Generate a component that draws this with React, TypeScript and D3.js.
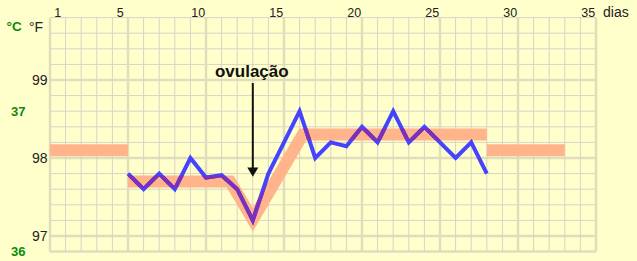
import React from "react";
import * as d3 from "d3";

const days: number[] = [5, 6, 7, 8, 9, 10, 11, 12, 13, 14, 15, 16, 17, 18, 19, 20, 21, 22, 23, 24, 25, 26, 27, 28];
const temps: number[] = [97.8, 97.6, 97.8, 97.6, 98.0, 97.75, 97.78, 97.6, 97.2, 97.8, 98.2, 98.6, 98.0, 98.2, 98.15, 98.4, 98.2, 98.6, 98.2, 98.4, 98.2, 98.0, 98.2, 97.8];

const bandBefore: [number, number][] = [[0, 98.1], [5, 98.1]];
const bandCycle: [number, number][] = [[5, 97.7], [11.55, 97.7], [13, 97.21], [16.2, 98.3], [28, 98.3]];
const bandAfter: [number, number][] = [[28, 98.1], [33, 98.1]];

const dayTicks: number[] = [1, 5, 10, 15, 20, 25, 30, 35];
const fTicks: number[] = [97, 98, 99];
const cTicks: { label: string; f: number }[] = [
  { label: "37", f: 98.6 },
  { label: "36", f: 96.8 },
];
const ovulationDay = 13;

const W = 637;
const H = 261;
const FONT = "'Liberation Sans', Arial, sans-serif";

export default function App() {
  const x = d3.scaleLinear().domain([0, 35]).range([50, 596]);
  const y = d3.scaleLinear().domain([96.8, 99.8]).range([251.6, 17.6]);

  const line = d3.line<[number, number]>().x((d) => x(d[0])).y((d) => y(d[1]));
  const tempPts: [number, number][] = days.map((d, i) => [d, temps[i]]);
  const bands = [bandBefore, bandCycle, bandAfter];

  const vLines = d3.range(0, 36);
  const hLines = d3.range(0, 16).map((i) => +(96.8 + i * 0.2).toFixed(1));

  const ax = x(ovulationDay);

  return (
    <svg width={W} height={H} style={{ position: "absolute", left: 0, top: 0, background: "#ffffcc" }}>
      <defs>
        <mask id="bandMask">
          <rect x={0} y={0} width={W} height={H} fill="black" />
          {bands.map((b, i) => (
            <path key={i} d={line(b) || ""} fill="none" stroke="white" strokeWidth={12} strokeLinejoin="miter" strokeMiterlimit={10} />
          ))}
        </mask>
      </defs>
      <rect x={0} y={0} width={W} height={H} fill="#ffffcc" />
      {/* grid */}
      {hLines.map((v) => {
        const thick = Math.abs(v - Math.round(v)) < 1e-6 || v === 96.8;
        return (
          <line key={"h" + v} x1={x(0)} x2={x(35)} y1={y(v)} y2={y(v)}
            stroke={thick ? "#e0ddbb" : "#d6d4c6"} strokeWidth={thick ? 2.5 : 1} />
        );
      })}
      {vLines.map((d) => {
        const thick = d % 5 === 0;
        return (
          <line key={"v" + d} x1={x(d)} x2={x(d)} y1={y(99.8)} y2={y(96.8)}
            stroke={thick ? "#e0ddbb" : "#d6d4c6"} strokeWidth={thick ? 2.5 : 1} />
        );
      })}
      {/* bands */}
      {bands.map((b, i) => (
        <path key={"b" + i} d={line(b) || ""} fill="none" stroke="#ffb48c" strokeWidth={12} strokeLinejoin="miter" strokeMiterlimit={10} />
      ))}
      {/* temperature line */}
      <path d={line(tempPts) || ""} fill="none" stroke="#4444ff" strokeWidth={4} strokeLinejoin="miter" strokeMiterlimit={10} />
      <path d={line(tempPts) || ""} fill="none" stroke="#7a30b8" strokeWidth={4} strokeLinejoin="miter" strokeMiterlimit={10} mask="url(#bandMask)" />
      {/* arrow */}
      <line x1={ax} x2={ax} y1={83} y2={170} stroke="#111" strokeWidth={2} />
      <polygon points={`${ax - 5.5},${167.5} ${ax + 5.5},${167.5} ${ax},${176.7}`} fill="#111" />
      <text x={ax - 1} y={77} textAnchor="middle" fontFamily={FONT} fontWeight="bold" fontSize={17} fill="#111">ovulação</text>
      {/* top day labels */}
      {dayTicks.map((d) => (
        <text key={"t" + d} x={x(d - 0.5)} y={16.5} textAnchor="middle" fontFamily={FONT} fontSize={12.5} fill="#222">{d}</text>
      ))}
      <text x={603} y={17} fontFamily={FONT} fontSize={14} fill="#222">dias</text>
      {/* F labels */}
      {fTicks.map((v) => (
        <text key={"f" + v} x={47.5} y={y(v)} dy="0.36em" textAnchor="end" fontFamily={FONT} fontSize={14} fill="#222">{v}</text>
      ))}
      {/* C labels */}
      {cTicks.map((c) => (
        <text key={"c" + c.label} x={11} y={y(c.f)} dy="0.36em" fontFamily={FONT} fontWeight="bold" fontSize={13} fill="#0b8a0b">{c.label}</text>
      ))}
      <text x={6.5} y={26.5} dy="0.36em" fontFamily={FONT} fontWeight="bold" fontSize={13.5} fill="#0b8a0b">°C</text>
      <text x={29} y={26.5} dy="0.36em" fontFamily={FONT} fontSize={14} fill="#222">°F</text>
    </svg>
  );
}
